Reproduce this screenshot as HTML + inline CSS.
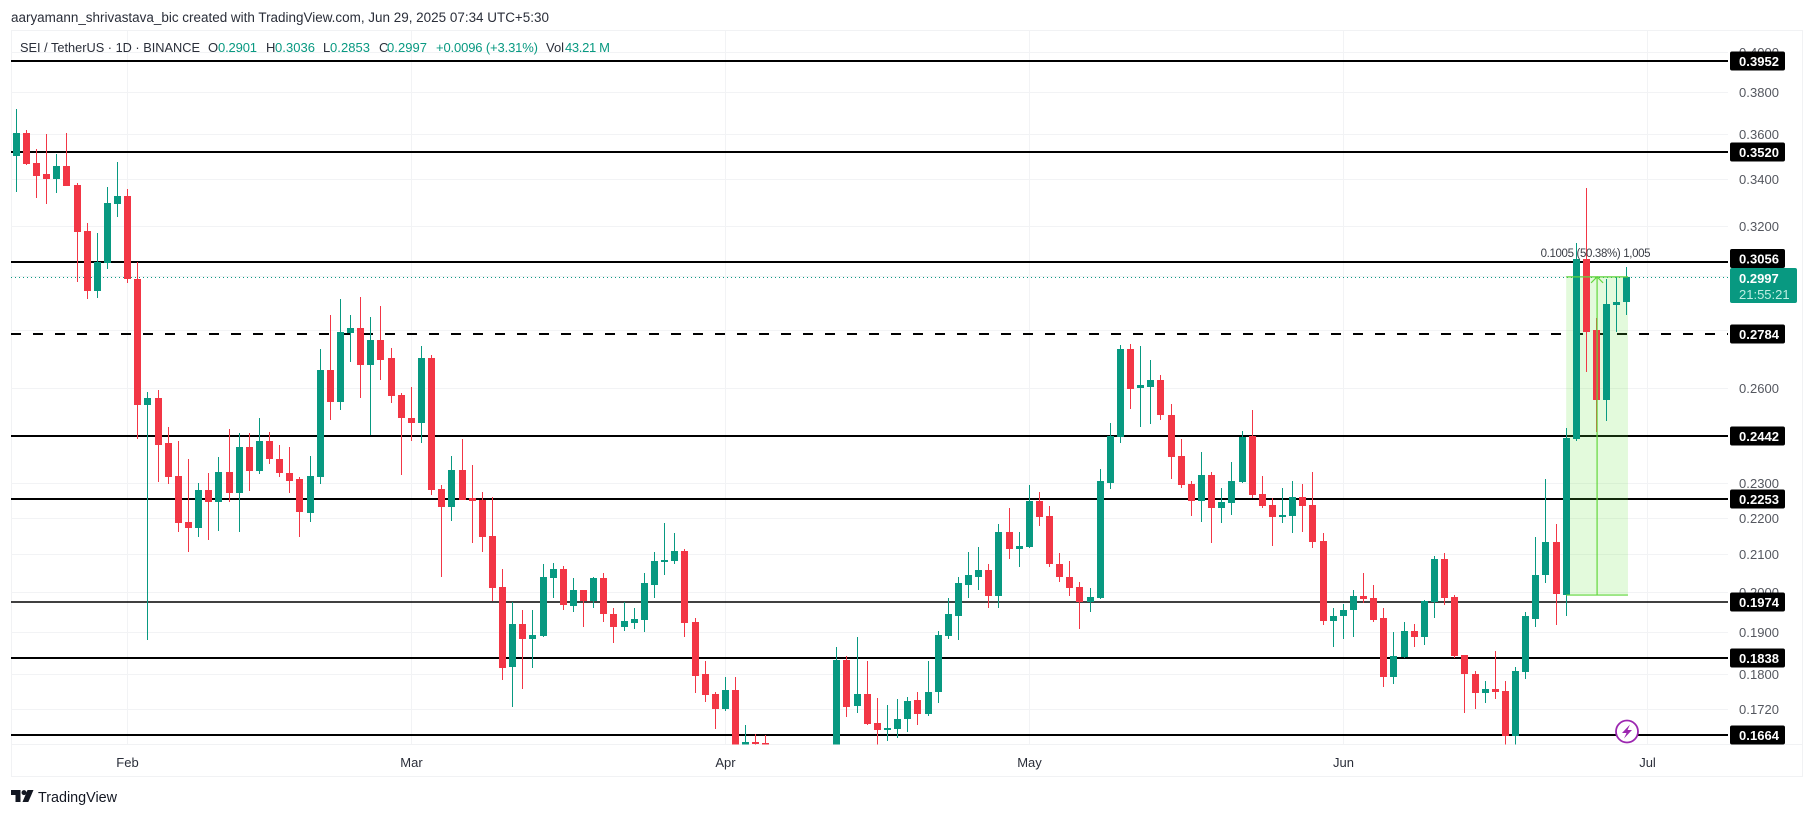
<!DOCTYPE html>
<html lang="en">
<head>
<meta charset="utf-8">
<title>SEI / TetherUS 1D chart</title>
<style>
html,body{margin:0;padding:0;background:#fff;width:1814px;height:816px;overflow:hidden}
svg{display:block;font-family:"Liberation Sans",sans-serif}
</style>
</head>
<body>
<svg id="chart" xmlns="http://www.w3.org/2000/svg" width="1814" height="816" viewBox="0 0 1814 816">
  <defs><clipPath id="pane-clip"><rect x="11" y="31" width="1717" height="713.5"/></clipPath></defs>
  <rect x="0" y="0" width="1814" height="816" fill="#ffffff"/>
  <text x="11" y="22" font-size="13.5" fill="#2a2e39" textLength="538" lengthAdjust="spacingAndGlyphs">aaryamann_shrivastava_bic created with TradingView.com, Jun 29, 2025 07:34 UTC+5:30</text>
  <rect x="11.5" y="30.5" width="1791" height="746" fill="none" stroke="#f1f2f4" stroke-width="1"/>
  <g id="grid"></g>
  <line x1="11" x2="1803" y1="744.5" y2="744.5" stroke="#f1f2f4"/>
  <g clip-path="url(#pane-clip)">
    <g id="levels"></g>
    <line id="price-line" stroke="#089981" stroke-width="1" stroke-dasharray="1 3"/>
    <rect id="range-box" fill="rgb(100,230,60)" fill-opacity="0.18"/>
    <g id="candles"></g>
    <g id="range-lines" stroke="#62d63c" stroke-width="1.2" fill="none"></g>
  </g>
  <text id="range-label" font-size="11.5" fill="#3a3d45" text-anchor="middle" textLength="110" lengthAdjust="spacing">0.1005 (50.38%) 1,005</text>
  <g id="price-axis"></g>
  <g id="level-tags"></g>
  <g>
    <rect id="last-tag" x="1730" width="67" height="35" rx="2" fill="#089981"/>
    <text id="last-tag-price" x="1739" font-size="13" font-weight="bold" fill="#ffffff">0.2997</text>
    <text id="last-tag-time" x="1739" font-size="13" fill="#bfeee3">21:55:21</text>
  </g>
  <g id="time-axis"></g>
  <g font-size="13" fill="#089981">
    <text x="20" y="52" fill="#2a2e39" textLength="180" lengthAdjust="spacingAndGlyphs">SEI / TetherUS · 1D · BINANCE</text>
    <text x="208" y="52" fill="#2a2e39">O</text>
    <text x="218" y="52" textLength="39">0.2901</text>
    <text x="266" y="52" fill="#2a2e39">H</text>
    <text x="275" y="52" textLength="40">0.3036</text>
    <text x="323" y="52" fill="#2a2e39">L</text>
    <text x="330" y="52" textLength="40">0.2853</text>
    <text x="379" y="52" fill="#2a2e39">C</text>
    <text x="387" y="52" textLength="40">0.2997</text>
    <text x="436" y="52" textLength="102">+0.0096 (+3.31%)</text>
    <text x="546" y="52" fill="#2a2e39">Vol</text>
    <text x="565" y="52" textLength="45">43.21 M</text>
  </g>
  <g>
    <circle cx="1627" cy="731.5" r="11" fill="#ffffff" stroke="#9c27b0" stroke-width="1.8"/>
    <path d="M1630 724.5 L1622 733 L1626.5 733 L1624 738.5 L1632 730 L1627.5 730 Z" fill="#9c27b0"/>
  </g>
  <g>
    <path d="M11 790 H20.5 V802 H15.5 V795 H11 Z" fill="#131722"/>
    <circle cx="24" cy="792.6" r="2.5" fill="#131722"/>
    <path d="M27.5 790 H33.5 L28.3 802 H22.5 Z" fill="#131722"/>
    <text x="38" y="802" font-size="15" fill="#131722" textLength="79" lengthAdjust="spacingAndGlyphs">TradingView</text>
  </g>
</svg>
<script>
const firstDate = '2025-01-21';
const opens = [
.3501,.3607,.3470,.3422,.3400,.3457,.3374,.3180,.2944,.3052,
.3292,.3326,.2990,.2543,.2566,.2422,.2320,.2187,.2170,.2281,
.2245,.2334,.2272,.2410,.2337,.2429,.2373,.2331,.2311,.2212,
.2317,.2661,.2553,.2790,.2808,.2675,.2765,.2702,.2576,.2502,
.2483,.2702,.2284,.2231,.2340,.2257,.2251,.2150,.2014,.1817,
.1920,.1883,.1891,.2035,.2059,.1965,.2004,.1978,.2035,.1945,
.1913,.1923,.1930,.2019,.2080,.2082,.2108,.1925,.1799,.1755,
.1722,.1764,.1633,.1650,.1648,.1635,.1560,.1530,.1525,.1590,
.1560,.1580,.1833,.1728,.1755,.1691,.1678,.1678,.1698,.1741,
.1709,.1759,.1891,.1940,.2017,.2040,.2056,.1990,.2161,.2114,
.2119,.2248,.2206,.2074,.2040,.2014,.1975,.1985,.2299,.2441,
.2733,.2600,.2603,.2627,.2511,.2382,.2296,.2248,.2325,.2229,
.2243,.2302,.2444,.2269,.2237,.2206,.2206,.2260,.2237,.2136,
.1928,.1938,.1953,.1990,.1985,.1935,.1794,.1840,.1903,.1888,
.1975,.2087,.1988,.1845,.1801,.1757,.1766,.1762,.1663,.1805,
.1933,.2043,.2133,.1993,.2435,.3067,.2801,.2559,.2891,.2901];
const highs = [
.3719,.3621,.3532,.3602,.3509,.3607,.3382,.3213,.3172,.3365,
.3474,.3356,.3056,.2586,.2593,.2473,.2429,.2373,.2299,.2331,
.2379,.2464,.2454,.2454,.2502,.2457,.2416,.2410,.2317,.2382,
.2733,.2855,.2913,.2855,.2921,.2848,.2887,.2736,.2583,.2603,
.2743,.2712,.2293,.2382,.2435,.2355,.2275,.2260,.2061,.1975,
.1955,.1953,.2072,.2077,.2069,.2035,.2006,.2040,.2048,.1958,
.1975,.1958,.2048,.2106,.2184,.2156,.2114,.1935,.1831,.1759,
.1794,.1794,.1687,.1667,.1664,.1640,.1600,.1570,.1620,.1610,
.1610,.1863,.1842,.1888,.1831,.1746,.1730,.1743,.1748,.1759,
.1831,.1903,.1985,.2040,.2106,.2119,.2072,.2181,.2229,.2159,
.2293,.2275,.2234,.2103,.2080,.2025,.2011,.2343,.2483,.2747,
.2751,.2743,.2695,.2644,.2546,.2435,.2305,.2394,.2334,.2287,
.2364,.2460,.2527,.2320,.2257,.2287,.2305,.2296,.2334,.2156,
.1958,.1970,.2006,.2048,.2017,.1958,.1901,.1925,.1920,.1980,
.2095,.2103,.1993,.1845,.1808,.1785,.1854,.1785,.1817,.1950,
.2145,.2311,.2181,.2467,.3131,.3360,.2844,.2990,.2998,.3036];
const lows = [
.3343,.3461,.3317,.3292,.3339,.3369,.2978,.2913,.2917,.3029,
.3238,.2975,.2435,.1881,.2302,.2296,.2161,.2106,.2145,.2139,
.2164,.2245,.2161,.2278,.2328,.2358,.2317,.2272,.2145,.2187,
.2296,.2495,.2527,.2688,.2566,.2447,.2624,.2549,.2323,.2429,
.2422,.2266,.2038,.2192,.2251,.2131,.2106,.1978,.1787,.1726,
.1766,.1815,.1888,.1985,.1953,.1948,.1911,.1960,.1925,.1873,
.1903,.1908,.1901,.1985,.2045,.2074,.1888,.1757,.1737,.1678,
.1717,.1593,.1610,.1630,.1620,.1545,.1510,.1515,.1520,.1540,
.1550,.1560,.1704,.1713,.1687,.1630,.1652,.1659,.1670,.1687,
.1706,.1735,.1883,.1881,.1985,.2006,.1960,.1958,.2087,.2066,
.2117,.2178,.2066,.2027,.1990,.1906,.1948,.1983,.2284,.2422,
.2530,.2473,.2480,.2495,.2311,.2287,.2206,.2189,.2131,.2184,
.2209,.2300,.2257,.2229,.2122,.2184,.2156,.2159,.2117,.1916,
.1863,.1883,.1888,.1973,.1925,.1771,.1778,.1838,.1863,.1868,
.1935,.1968,.1838,.1713,.1722,.1735,.1743,.1640,.1640,.1789,
.1913,.2022,.1916,.1938,.2429,.2651,.2457,.2492,.2794,.2853];
const closes = [
.3607,.3466,.3413,.3400,.3457,.3369,.3176,.2944,.3056,.3296,
.3326,.2990,.2543,.2566,.2416,.2317,.2184,.2170,.2281,.2245,
.2334,.2272,.2410,.2337,.2429,.2373,.2331,.2307,.2215,.2320,
.2658,.2553,.2794,.2808,.2675,.2765,.2695,.2573,.2499,.2483,
.2702,.2281,.2231,.2340,.2251,.2248,.2147,.2011,.1815,.1920,
.1883,.1893,.2038,.2059,.1968,.2004,.1978,.2035,.1943,.1913,
.1928,.1933,.2022,.2082,.2085,.2108,.1923,.1796,.1753,.1722,
.1764,.1613,.1650,.1646,.1635,.1560,.1530,.1525,.1590,.1560,
.1580,.1833,.1726,.1755,.1689,.1676,.1680,.1700,.1739,.1709,
.1759,.1893,.1943,.2022,.2043,.2056,.1990,.2161,.2114,.2122,
.2248,.2203,.2072,.2038,.2009,.1975,.1988,.2305,.2444,.2733,
.2596,.2610,.2627,.2511,.2379,.2293,.2248,.2325,.2229,.2245,
.2305,.2441,.2266,.2234,.2203,.2209,.2260,.2234,.2133,.1928,
.1940,.1955,.1990,.1983,.1930,.1794,.1842,.1903,.1888,.1978,
.2087,.1985,.1842,.1799,.1757,.1766,.1759,.1663,.1808,.1938,
.2045,.2133,.1996,.2438,.3067,.2794,.2559,.2895,.2902,.2997];
const levelPrices = [0.3952,0.3520,0.3056,0.2784,0.2442,0.2253,0.1974,0.1838,0.1664];
const levelLabels = ['0.3952','0.3520','0.3056','0.2784','0.2442','0.2253','0.1974','0.1838','0.1664'];
const dashedLevel = 0.2784;
const thinLevel = 0.1974;
const tickPrices = [0.40,0.38,0.36,0.34,0.32,0.30,0.28,0.26,0.23,0.22,0.21,0.20,0.19,0.18,0.172];
const tickLabels = ['0.4000','0.3800','0.3600','0.3400','0.3200','0.3000','0.2800','0.2600','0.2300','0.2200','0.2100','0.2000','0.1900','0.1800','0.1720'];
const monthNames = ['Feb','Mar','Apr','May','Jun','Jul'];
const monthDates = ['2025-02-01','2025-03-01','2025-04-01','2025-05-01','2025-06-01','2025-07-01'];
const lastPrice = 0.2997;
const rangeLow = 0.1992;
const rangeHigh = 0.2997;
const rangeStartIndex = 153;
const rangeEndIndex = 159;

const NS = 'http://www.w3.org/2000/svg';
function yScale(p){ return 52 + 779 * Math.log(0.4 / p); }
function xScale(i){ return 16.3 + 10.13 * i; }
function dayIndex(d){ return Math.round((Date.parse(d) - Date.parse(firstDate)) / 86400000); }
function make(tag, parent, attrs){
  const el = document.createElementNS(NS, tag);
  for (const k in attrs) el.setAttribute(k, attrs[k]);
  parent.appendChild(el);
  return el;
}
const gridG = document.getElementById('grid');
const axisG = document.getElementById('price-axis');
tickPrices.forEach(function(p, i){
  const y = Math.round(yScale(p)) + 0.5;
  const ln = make('line', gridG, {x1:11, x2:1728, y1:y, y2:y, stroke:'#f2f3f5', 'stroke-width':1});
  
  
  const t = make('text', axisG, {x:1739, y:y + 4.5, 'font-size':13, fill:'#54575f', textLength:40});
  t.textContent = tickLabels[i];
  
  
});
const timeG = document.getElementById('time-axis');
monthDates.forEach(function(d, i){
  const x = Math.floor(xScale(dayIndex(d))) + 0.5;
  const ln = make('line', gridG, {x1:x, x2:x, y1:31, y2:744, stroke:'#f2f3f5', 'stroke-width':1});
  
  
  const t = make('text', timeG, {x:x, y:767, 'font-size':13, fill:'#2a2e39', 'text-anchor':'middle'});
  t.textContent = monthNames[i];
  
  
});
const lastY = Math.round(yScale(lastPrice));
const lastTagTop = lastY - 9;
const levelG = document.getElementById('levels');
const tagG = document.getElementById('level-tags');
levelPrices.forEach(function(p, i){
  const y = Math.round(yScale(p));
  const isThin = p === thinLevel;
  const ln = make('line', levelG, {x1:11, x2:1728, y1:y, y2:y, stroke:'#000000', 'stroke-width': isThin ? 1.4 : 2});
  if (p === dashedLevel) ln.setAttribute('stroke-dasharray', '10 12');
  
  
  let tagCentre = y;
  if (y + 9.5 > lastTagTop && y - 9.5 < lastTagTop) tagCentre = lastTagTop - 9.5;
  const box = make('rect', tagG, {x:1730, y:tagCentre - 9.5, width:55, height:19, rx:2, fill:'#000000'});
  
  
  const t = make('text', tagG, {x:1739, y:tagCentre + 5, 'font-size':13, 'font-weight':'bold', fill:'#ffffff', textLength:40});
  t.textContent = levelLabels[i];
  
  
});
const priceLine = document.getElementById('price-line');
priceLine.setAttribute('x1', 11);
priceLine.setAttribute('x2', 1728);
priceLine.setAttribute('y1', lastY + 0.5);
priceLine.setAttribute('y2', lastY + 0.5);
document.getElementById('last-tag').setAttribute('y', lastTagTop);
document.getElementById('last-tag-price').setAttribute('y', lastY + 6);
document.getElementById('last-tag-time').setAttribute('y', lastY + 22);

const rx1 = xScale(rangeStartIndex);
const rx2 = xScale(rangeEndIndex) + 1;
const ryTop = yScale(rangeHigh);
const ryBot = yScale(rangeLow);
const box = document.getElementById('range-box');
box.setAttribute('x', rx1);
box.setAttribute('y', ryTop);
box.setAttribute('width', rx2 - rx1);
box.setAttribute('height', ryBot - ryTop);
const rangeG = document.getElementById('range-lines');
const rxm = (rx1 + rx2) / 2;
const rl1 = make('line', rangeG, {x1:rx1, x2:rx2, y1:ryTop, y2:ryTop});


const rl2 = make('line', rangeG, {x1:rx1, x2:rx2, y1:ryBot, y2:ryBot});


const rl3 = make('line', rangeG, {x1:rxm, x2:rxm, y1:ryTop, y2:ryBot});


const rl4 = make('path', rangeG, {d:'M' + (rxm - 6) + ' ' + (ryTop + 6) + ' L' + rxm + ' ' + ryTop + ' L' + (rxm + 6) + ' ' + (ryTop + 6)});


const rangeLabel = document.getElementById('range-label');
rangeLabel.setAttribute('x', rxm - 1.5);
rangeLabel.setAttribute('y', ryTop - 20);

const candleG = document.getElementById('candles');
opens.forEach(function(o, i){
  const c = closes[i];
  const col = c >= o ? '#089981' : '#F23645';
  const x = Math.floor(xScale(i));
  const g = make('g', candleG, {});
  
  
  const yh = Math.round(yScale(highs[i]));
  const yl = Math.round(yScale(lows[i]));
  const wick = make('rect', g, {x:x, y:yh, width:1, height:Math.max(1, yl - yh), fill:col});
  
  
  const yt = Math.round(yScale(Math.max(o, c)));
  const yb = Math.round(yScale(Math.min(o, c)));
  const body = make('rect', g, {x:x - 3, y:yt, width:7, height:Math.max(2, yb - yt), fill:col});
  
  
});
</script>
</body>
</html>
